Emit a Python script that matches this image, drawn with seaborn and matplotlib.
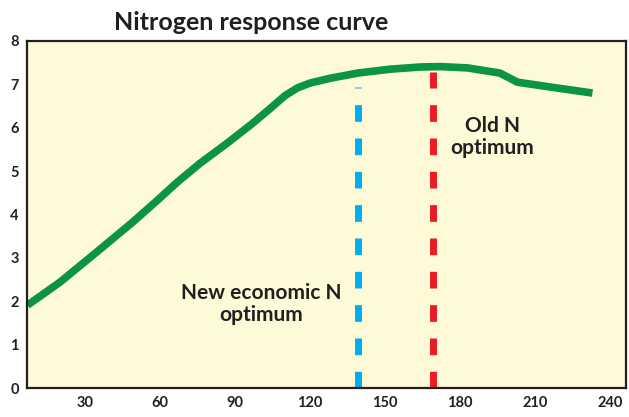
import numpy as np
import pandas as pd
import matplotlib
matplotlib.use("Agg")
import matplotlib.pyplot as plt
import seaborn as sns

# ── data ─────────────────────────────────────────────────────────
n_rate = [7, 20, 35, 49, 59, 67, 76, 87, 97, 104, 110, 115, 120, 128,
          139, 152, 164, 172, 183, 196, 203, 216, 233]
yield_t = [1.91, 2.44, 3.15, 3.82, 4.33, 4.75, 5.18, 5.65, 6.10, 6.44, 6.74, 6.92, 7.03, 7.14,
           7.26, 7.35, 7.40, 7.41, 7.38, 7.26, 7.05, 6.94, 6.80]

new_opt_x, new_opt_top = 139, 6.94
old_opt_x, old_opt_top = 169, 7.28

x_ticks = [30, 60, 90, 120, 150, 180, 210, 240]
y_ticks = [0, 1, 2, 3, 4, 5, 6, 7, 8]

df = pd.DataFrame({"N": n_rate, "yield": yield_t})

# ── style ────────────────────────────────────────────────────────
sns.set_style("white")
plt.rcParams["font.family"] = ["Lato", "DejaVu Sans"]
ink = "#231F20"

fig = plt.figure(figsize=(6.29, 4.17), dpi=100)
ax = fig.add_axes([27 / 629, 29 / 417, 599 / 629, 347 / 417])
ax.set_facecolor("#FEF9D6")

sns.lineplot(data=df, x="N", y="yield", ax=ax, color="#0B9444", linewidth=5.5,
             solid_capstyle="butt", solid_joinstyle="round")

ax.vlines(new_opt_x, 0, new_opt_top, color="#00AEEF", linewidth=5,
          linestyles=[(0, (2.4, 2.4))])
ax.vlines(old_opt_x, 0, old_opt_top, color="#ED1C24", linewidth=5,
          linestyles=[(0, (2.4, 2.4))])

ax.text(100.5, 1.94, "New economic N\noptimum", ha="center", va="center",
        fontsize=15, fontweight="bold", color=ink, linespacing=1.15)
ax.text(193, 5.78, "Old N\noptimum", ha="center", va="center",
        fontsize=15, fontweight="bold", color=ink, linespacing=1.15)

ax.set_xlim(6.8, 246.4)
ax.set_ylim(0, 8)
ax.set_xticks(x_ticks)
ax.set_yticks(y_ticks)
ax.set_xlabel("")
ax.set_ylabel("")
ax.tick_params(length=0, labelsize=10.5, labelcolor=ink, pad=6)
for lab in ax.get_xticklabels() + ax.get_yticklabels():
    lab.set_fontweight("bold")
for side in ["left", "bottom", "top", "right"]:
    ax.spines[side].set_visible(True)
    ax.spines[side].set_color(ink)
    ax.spines[side].set_linewidth(1.6)

fig.text(251 / 629, 1 - 22 / 417, "Nitrogen response curve", ha="center", va="center",
         fontsize=18, fontweight="bold", color=ink)

plt.savefig("out.png", dpi=100)
